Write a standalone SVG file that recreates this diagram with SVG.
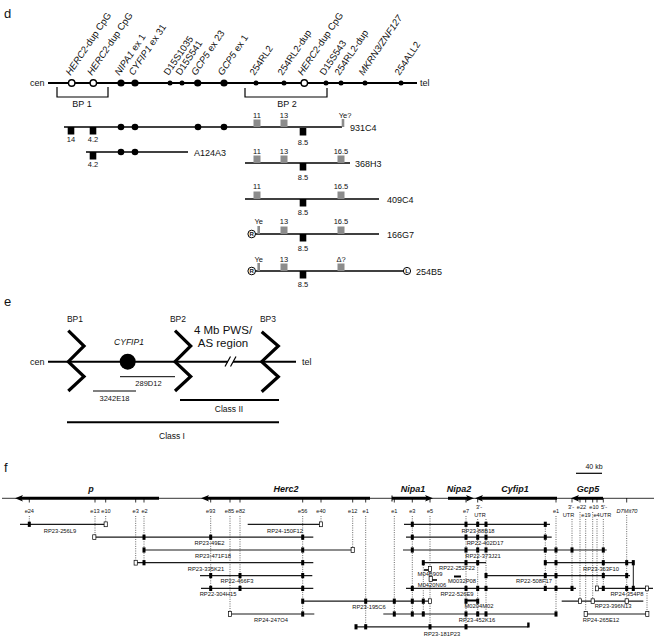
<svg xmlns="http://www.w3.org/2000/svg" xmlns:xlink="http://www.w3.org/1999/xlink" width="656" height="642" viewBox="0 0 656 642">
<style>
text{font-family:"Liberation Sans",Arial,sans-serif;fill:#111}
.rl{font-size:9.5px}
.it{font-style:italic}
.bi{font-style:italic;font-weight:bold;font-size:9px}
.ln{stroke:#000;fill:none}
.cl{stroke:#1a1a1a;stroke-width:1.2;fill:none}
.n7{font-size:7.5px}
.lab9{font-size:9px}
.f6{font-size:5.8px}
.ex{font-size:5.6px;text-anchor:middle}
.mid{text-anchor:middle}
.dot{stroke:#000;stroke-width:0.6;stroke-dasharray:1 1.3;fill:none}
.gy{fill:#8c8c8c}
.pl{font-size:13px}
</style>
<defs>
<rect id="bs" x="-1.5" y="-2.6" width="3" height="5.2" fill="#000"/>
<rect id="os" x="-1.6" y="-2.4" width="3.2" height="4.8" fill="#fff" stroke="#000" stroke-width="0.7"/>
<rect id="dsq" x="-3.3" y="0" width="6.6" height="7.5" fill="#000"/>
<rect id="gsq" x="-3.5" y="-7.5" width="7" height="7.5" fill="#8c8c8c"/>
<rect id="gye" x="-1.3" y="-8" width="2.6" height="8" fill="#8c8c8c"/>
</defs>

<!-- ================= PANEL D ================= -->
<g id="panel-d">
<text x="4" y="18" class="pl">d</text>
<g id="d-chromosome">
<text x="30" y="86" class="lab9">cen</text>
<line x1="48" y1="83" x2="417" y2="83" class="ln" stroke-width="2"/>
<text x="420" y="86" class="lab9">tel</text>
<circle cx="71.7" cy="83" r="3.2" fill="#fff" stroke="#000" stroke-width="1.4"/>
<circle cx="93.3" cy="83" r="3.2" fill="#fff" stroke="#000" stroke-width="1.4"/>
<circle cx="304.3" cy="83" r="3.2" fill="#fff" stroke="#000" stroke-width="1.4"/>
<circle cx="121" cy="83" r="3.6"/>
<circle cx="135" cy="83" r="3.6"/>
<circle cx="197.7" cy="83" r="3.6"/>
<circle cx="224" cy="83" r="3.6"/>
<circle cx="170" cy="83" r="2.5"/>
<circle cx="182" cy="83" r="2.5"/>
<circle cx="256" cy="83" r="2.5"/>
<circle cx="284" cy="83" r="2.5"/>
<circle cx="326" cy="83" r="2.5"/>
<circle cx="341" cy="83" r="2.5"/>
<circle cx="365" cy="83" r="2.5"/>
<circle cx="401" cy="83" r="2.5"/>
</g>
<g id="d-markers" class="rl">
<text transform="translate(70.5,76) rotate(-56)"><tspan class="it">HERC2</tspan>-dup CpG</text>
<text transform="translate(92,76) rotate(-56)"><tspan class="it">HERC2</tspan>-dup CpG</text>
<text transform="translate(119.5,76) rotate(-56)"><tspan class="it">NIPA1</tspan> ex 1</text>
<text transform="translate(133.5,76) rotate(-56)"><tspan class="it">CYFIP1</tspan> ex 31</text>
<text transform="translate(168.5,76) rotate(-56)">D15S1035</text>
<text transform="translate(180.5,76) rotate(-56)">D15S541</text>
<text transform="translate(196,76) rotate(-56)"><tspan class="it">GCP5</tspan> ex 23</text>
<text transform="translate(222.5,76) rotate(-56)"><tspan class="it">GCP5</tspan> ex 1</text>
<text transform="translate(254.5,76) rotate(-56)">254RL2</text>
<text transform="translate(282.5,76) rotate(-56)">254RL2-dup</text>
<text transform="translate(302.5,76) rotate(-56)"><tspan class="it">HERC2</tspan>-dup CpG</text>
<text transform="translate(324.5,76) rotate(-56)">D15S543</text>
<text transform="translate(339.5,76) rotate(-56)">254RL2-dup</text>
<text transform="translate(363.5,76) rotate(-56)" class="it">MKRN3/ZNF127</text>
<text transform="translate(399.5,76) rotate(-56)">254ALL2</text>
</g>
<g id="d-bp1">
<path d="M57,87V97H108V87" class="ln" stroke-width="1.2"/>
<text x="82" y="106.5" class="lab9 mid">BP 1</text>
</g>
<g id="d-bp2">
<path d="M245,88V97H327V88" class="ln" stroke-width="1.2"/>
<text x="287" y="106.5" class="lab9 mid">BP 2</text>
</g>

<g id="clone-931C4">
<line x1="64" y1="127" x2="342" y2="127" class="ln" stroke-width="1.3"/>
<use xlink:href="#dsq" x="71" y="127"/>
<use xlink:href="#dsq" x="93" y="127"/>
<text x="71" y="142" class="n7 mid">14</text>
<text x="93" y="142" class="n7 mid">4.2</text>
<circle cx="121" cy="127" r="3.3"/><circle cx="135" cy="127" r="3.3"/>
<circle cx="198" cy="127" r="3.3"/><circle cx="224" cy="127" r="3.3"/>
<use xlink:href="#gsq" x="257" y="127"/><use xlink:href="#gsq" x="284" y="127"/>
<text x="257" y="118" class="n7 mid">11</text>
<text x="284" y="118" class="n7 mid">13</text>
<use xlink:href="#dsq" x="303" y="128"/>
<text x="303" y="145" class="n7 mid">8.5</text>
<use xlink:href="#gye" x="343" y="127"/>
<text x="345" y="118" class="n7 mid">Ye?</text>
<text x="350" y="130.5" class="lab9">931C4</text>
</g>

<g id="clone-A124A3">
<line x1="86" y1="152" x2="188" y2="152" class="ln" stroke-width="1.3"/>
<use xlink:href="#dsq" x="93" y="152"/>
<text x="93" y="166.5" class="n7 mid">4.2</text>
<circle cx="121" cy="152" r="3.3"/><circle cx="135" cy="152" r="3.3"/>
<text x="194" y="155.5" class="lab9">A124A3</text>
</g>

<g id="clone-368H3">
<line x1="245" y1="163" x2="350" y2="163" class="ln" stroke-width="1.3"/>
<use xlink:href="#gsq" x="257" y="163"/><use xlink:href="#gsq" x="284" y="163"/>
<use xlink:href="#gsq" x="341" y="163"/>
<text x="257" y="153.5" class="n7 mid">11</text>
<text x="284" y="153.5" class="n7 mid">13</text>
<text x="341" y="153.5" class="n7 mid">16.5</text>
<use xlink:href="#dsq" x="303" y="163"/>
<text x="303" y="180" class="n7 mid">8.5</text>
<text x="355" y="166.5" class="lab9">368H3</text>
</g>

<g id="clone-409C4">
<line x1="245" y1="199" x2="379" y2="199" class="ln" stroke-width="1.3"/>
<use xlink:href="#gsq" x="257" y="199"/><use xlink:href="#gsq" x="341" y="199"/>
<text x="257" y="189" class="n7 mid">11</text>
<text x="341" y="189" class="n7 mid">16.5</text>
<use xlink:href="#dsq" x="303" y="199"/>
<text x="303" y="215" class="n7 mid">8.5</text>
<text x="387" y="202.5" class="lab9">409C4</text>
</g>

<g id="clone-166G7">
<circle cx="251.7" cy="234" r="3.8" fill="#fff" stroke="#000" stroke-width="1"/>
<text x="251.7" y="236.3" font-size="6" font-weight="bold" class="mid">R</text>
<line x1="255.5" y1="234" x2="379" y2="234" class="ln" stroke-width="1.3"/>
<use xlink:href="#gye" x="258.7" y="234"/>
<use xlink:href="#gsq" x="284" y="234"/><use xlink:href="#gsq" x="341" y="234"/>
<text x="258.7" y="224" class="n7 mid">Ye</text>
<text x="284" y="224" class="n7 mid">13</text>
<text x="341" y="224" class="n7 mid">16.5</text>
<use xlink:href="#dsq" x="303" y="234"/>
<text x="303" y="250.5" class="n7 mid">8.5</text>
<text x="387" y="237.5" class="lab9">166G7</text>
</g>

<g id="clone-254B5">
<circle cx="251.7" cy="271" r="3.8" fill="#fff" stroke="#000" stroke-width="1"/>
<text x="251.7" y="273.3" font-size="6" font-weight="bold" class="mid">R</text>
<line x1="255.5" y1="271" x2="403" y2="271" class="ln" stroke-width="1.3"/>
<use xlink:href="#gye" x="258.7" y="271"/>
<use xlink:href="#gsq" x="284" y="271"/><use xlink:href="#gsq" x="341" y="271"/>
<text x="258.7" y="261.5" class="n7 mid">Ye</text>
<text x="284" y="261.5" class="n7 mid">13</text>
<text x="341" y="261.5" class="n7 mid">Δ?</text>
<use xlink:href="#dsq" x="303" y="271"/>
<text x="303" y="287" class="n7 mid">8.5</text>
<circle cx="407" cy="271" r="3.6" fill="#fff" stroke="#000" stroke-width="1"/>
<text x="407" y="273.3" font-size="6" font-weight="bold" class="mid">L</text>
<text x="416" y="274.5" class="lab9">254B5</text>
</g>
</g>

<!-- ================= PANEL E ================= -->
<g id="panel-e">
<text x="4" y="306" class="pl">e</text>
<g id="e-axis">
<text x="30" y="364.5" class="lab9">cen</text>
<line x1="48" y1="361.7" x2="296" y2="361.7" class="ln" stroke-width="2"/>
<text x="302" y="364.5" class="lab9">tel</text>
<rect x="228" y="358" width="5" height="8" fill="#fff"/>
<line x1="225" y1="366.5" x2="230.5" y2="356.5" class="ln" stroke-width="1.2"/>
<line x1="230.5" y1="366.5" x2="236" y2="356.5" class="ln" stroke-width="1.2"/>
</g>
<g id="e-bp1">
<polyline points="68.3,330.7 84,346 68.3,361.7 84,376.5 68.3,391" class="ln" stroke-width="3.2"/>
<text x="75" y="322" font-size="8.5" class="mid">BP1</text>
</g>
<g id="e-bp2">
<polyline points="175,330.7 190.7,346 175,361.7 190.7,376.5 175,391" class="ln" stroke-width="3.2"/>
<text x="178" y="322" font-size="8.5" class="mid">BP2</text>
</g>
<g id="e-bp3">
<polyline points="261.7,331.7 278.3,346 261.7,361.7 278.3,376.7 261.7,391.7" class="ln" stroke-width="3.2"/>
<text x="268" y="322" font-size="8.5" class="mid">BP3</text>
</g>
<g id="e-cyfip1">
<circle cx="127.7" cy="361.7" r="8"/>
<text x="129" y="345" font-size="8.5" class="mid it">CYFIP1</text>
</g>
<g id="e-region">
<text x="223" y="334" font-size="11.5" class="mid">4 Mb PWS/</text>
<text x="223" y="346.5" font-size="11.5" class="mid">AS region</text>
</g>
<g id="e-289D12">
<line x1="120" y1="376.7" x2="175" y2="376.7" class="ln" stroke-width="1"/>
<text x="148.5" y="385.5" font-size="7.5" class="mid">289D12</text>
</g>
<g id="e-3242E18">
<line x1="93" y1="391" x2="136" y2="391" class="ln" stroke-width="1"/>
<text x="114.5" y="401" font-size="7.5" class="mid">3242E18</text>
</g>
<g id="e-classII">
<line x1="180" y1="400" x2="279" y2="400" class="ln" stroke-width="2"/>
<text x="229" y="412" font-size="8.5" class="mid">Class II</text>
</g>
<g id="e-classI">
<line x1="67" y1="422.3" x2="279" y2="422.3" class="ln" stroke-width="2"/>
<text x="172" y="439" font-size="8.5" class="mid">Class I</text>
</g>
</g>

<!-- ================= PANEL F ================= -->
<g id="panel-f">
<text x="4" y="472" class="pl">f</text>
<g id="f-scale">
<text x="594" y="469" font-size="7" class="mid">40 kb</text>
<line x1="576" y1="473.3" x2="602" y2="473.3" class="ln" stroke-width="1.2"/>
</g>
<g id="f-axis">
<line x1="2" y1="498.3" x2="654" y2="498.3" class="ln" stroke-width="0.8"/>
</g>
<g id="gene-p">
<line x1="21" y1="498.3" x2="159" y2="498.3" class="ln" stroke-width="3"/>
<polygon points="15,498.3 23,495 21,498.3 23,501.6"/>
<text x="91" y="492" class="bi mid">p</text>
</g>
<g id="gene-Herc2">
<line x1="207" y1="498.3" x2="370" y2="498.3" class="ln" stroke-width="3"/>
<polygon points="201,498.3 209,495 207,498.3 209,501.6"/>
<text x="286" y="492" class="bi mid">Herc2</text>
</g>
<g id="gene-Nipa1">
<line x1="392" y1="498.3" x2="428" y2="498.3" class="ln" stroke-width="3"/>
<line x1="392" y1="495.5" x2="392" y2="501.5" class="ln" stroke-width="1"/>
<polygon points="433,498.3 425,495 427,498.3 425,501.6"/>
<text x="413" y="492" class="bi mid">Nipa1</text>
</g>
<g id="gene-Nipa2">
<line x1="448" y1="498.3" x2="469" y2="498.3" class="ln" stroke-width="3"/>
<polygon points="474,498.3 466,495 468,498.3 466,501.6"/>
<text x="459" y="492" class="bi mid">Nipa2</text>
</g>
<g id="gene-Cyfip1">
<line x1="480" y1="498.3" x2="557" y2="498.3" class="ln" stroke-width="3"/>
<polygon points="475,498.3 483,495 481,498.3 483,501.6"/>
<text x="515" y="492" class="bi mid">Cyfip1</text>
</g>
<g id="gene-Gcp5">
<line x1="576" y1="498.3" x2="603" y2="498.3" class="ln" stroke-width="3"/>
<polygon points="571,498.3 579,495 577,498.3 579,501.6"/>
<text x="588" y="492" class="bi mid">Gcp5</text>
</g>

<g id="f-ticks" stroke="#000" stroke-width="0.8">
<path d="M29.3,498v4.5M95,498v4.5M105.7,498v4.5M135.7,498v4.5M144,498v4.5M210.7,498v4.5M230,498v4.5M240,498v4.5M302.7,498v4.5M321,498v4.5M352.7,498v4.5M365.7,498v4.5M394.3,498v4.5M412.3,498v4.5M430,498v4.5M466,498v4.5M477.7,498v4.5M556,498v4.5M572,498v4.5M580,498v4.5M585.7,498v4.5M592.7,498v4.5M597,498v4.5M603.3,498v4.5M626.7,498v4.5"/>
</g>
<g id="f-exon-labels">
<text x="29.3" y="513" class="ex">e24</text>
<text x="95" y="513" class="ex">e13</text>
<text x="106" y="513" class="ex">e10</text>
<text x="135.7" y="513" class="ex">e3</text>
<text x="144.5" y="513" class="ex">e2</text>
<text x="210.7" y="513" class="ex">e93</text>
<text x="229.5" y="513" class="ex">e85</text>
<text x="240.5" y="513" class="ex">e82</text>
<text x="302.7" y="513" class="ex">e56</text>
<text x="321" y="513" class="ex">e40</text>
<text x="352.7" y="513" class="ex">e12</text>
<text x="365.7" y="513" class="ex">e1</text>
<text x="394.3" y="513" class="ex">e1</text>
<text x="412.3" y="513" class="ex">e3</text>
<text x="430" y="513" class="ex">e5</text>
<text x="466" y="513" class="ex">e7</text>
<text x="479" y="509" class="ex">3'-</text>
<text x="480" y="516.5" class="ex">UTR</text>
<text x="556" y="513" class="ex">e1</text>
<text x="571" y="509" class="ex">3'-</text>
<text x="568.5" y="516.5" class="ex">UTR</text>
<text x="581.5" y="509" class="ex">e22</text>
<text x="586" y="516.5" class="ex">e19</text>
<text x="594" y="509" class="ex">e10</text>
<text x="596.5" y="516.5" class="ex">e4</text>
<text x="604" y="509" class="ex">5'-</text>
<text x="605.5" y="516.5" class="ex">UTR</text>
<text x="627" y="512.5" class="ex it">D7Mit70</text>
</g>

<g id="connectors">
<path class="dot" d="M29.3,516V524M95,516V537M105.7,516V524M135.7,516V562.7M144,516V562.7M210.7,516V588.4M230,516V614M240,516V588.4M302.7,516V614M321,516V524M352.7,516V550M365.7,516V626.8M394.3,516V614M412.3,516V614M430,516V626.8M423.3,562.7V614M466,516V626.8M477.7,519V614M486,519V614M545.3,524V588.4M556,516V614M572,519V588.4M580,512V601.2M585.7,519V614M592.7,512V601.2M597,519V588.4M603.3,519V588.4M626.7,515V601.2M647,588.4V614"/>
<line x1="633.3" y1="562.7" x2="633.3" y2="588.4" class="ln" stroke-width="0.9"/>
</g>

<g id="clones" class="f6">
<!-- row 1 -->
<g id="RP23-256L9">
<line x1="20" y1="524.3" x2="105.7" y2="524.3" class="cl"/>
<use xlink:href="#bs" x="29.3" y="524.3"/><use xlink:href="#os" x="105.7" y="524.3"/>
<text x="60" y="533" class="mid">RP23-256L9</text>
</g>
<g id="RP24-150F12">
<line x1="247.7" y1="524.3" x2="321" y2="524.3" class="cl"/>
<use xlink:href="#os" x="321" y="524.3"/>
<text x="285" y="533" class="mid">RP24-150F12</text>
</g>
<g id="RP23-88B18">
<line x1="404" y1="524.3" x2="550" y2="524.3" class="cl"/>
<use xlink:href="#bs" x="412.3" y="524.3"/><use xlink:href="#bs" x="466" y="524.3"/><use xlink:href="#bs" x="477.7" y="524.3"/><use xlink:href="#bs" x="486" y="524.3"/><use xlink:href="#bs" x="545.3" y="524.3"/>
<text x="478" y="532.5" class="mid">RP23-88B18</text>
</g>
<!-- row 2 -->
<g id="RP23-49E2">
<line x1="94.3" y1="537.2" x2="313.3" y2="537.2" class="cl"/>
<use xlink:href="#os" x="94.3" y="537.2"/><use xlink:href="#bs" x="144" y="537.2"/><use xlink:href="#bs" x="210.7" y="537.2"/><use xlink:href="#bs" x="302.7" y="537.2"/>
<text x="209.5" y="545" class="mid">RP23-49E2</text>
</g>
<g id="RP22-402D17">
<line x1="406" y1="537.2" x2="551.7" y2="537.2" class="cl"/>
<use xlink:href="#bs" x="412.3" y="537.2"/><use xlink:href="#bs" x="466" y="537.2"/><use xlink:href="#bs" x="477.7" y="537.2"/><use xlink:href="#bs" x="486" y="537.2"/><use xlink:href="#bs" x="545.3" y="537.2"/>
<text x="485" y="544.5" class="mid">RP22-402D17</text>
</g>
<!-- row 3 -->
<g id="RP23-471F18">
<line x1="144" y1="550" x2="352.7" y2="550" class="cl"/>
<use xlink:href="#bs" x="144" y="550"/><use xlink:href="#bs" x="302.7" y="550"/><use xlink:href="#os" x="352.7" y="550"/>
<text x="213" y="557.5" class="mid">RP23-471F18</text>
</g>
<g id="RP22-373J21">
<line x1="403" y1="550" x2="606.7" y2="550" class="cl"/>
<use xlink:href="#bs" x="412.3" y="550"/><use xlink:href="#bs" x="466" y="550"/><use xlink:href="#bs" x="477.7" y="550"/><use xlink:href="#bs" x="486" y="550"/><use xlink:href="#bs" x="545.3" y="550"/><use xlink:href="#bs" x="556" y="550"/><use xlink:href="#bs" x="572" y="550"/><use xlink:href="#bs" x="603.3" y="550"/>
<text x="483" y="557.5" class="mid">RP22-373J21</text>
</g>
<!-- row 4 -->
<g id="RP23-335K21">
<line x1="135.7" y1="562.7" x2="313.3" y2="562.7" class="cl"/>
<use xlink:href="#os" x="135.7" y="562.7"/><use xlink:href="#bs" x="144" y="562.7"/><use xlink:href="#bs" x="302.7" y="562.7"/>
<text x="206" y="570.5" class="mid">RP23-335K21</text>
</g>
<g id="RP22-252F22">
<line x1="423.3" y1="562.7" x2="486" y2="562.7" class="cl"/>
<use xlink:href="#bs" x="423.3" y="562.7"/><use xlink:href="#bs" x="466" y="562.7"/><use xlink:href="#bs" x="477.7" y="562.7"/>
<text x="457" y="569.5" class="mid">RP22-252F22</text>
</g>
<g id="RP23-363F10">
<line x1="545.3" y1="562.7" x2="633.3" y2="562.7" class="cl"/>
<use xlink:href="#bs" x="545.3" y="562.7"/><use xlink:href="#bs" x="556" y="562.7"/><use xlink:href="#bs" x="603.3" y="562.7"/><use xlink:href="#bs" x="626.7" y="562.7"/><use xlink:href="#bs" x="633.3" y="562.7"/>
<text x="601" y="570.5" class="mid">RP23-363F10</text>
</g>
<!-- row 5 -->
<g id="RP22-466F3">
<line x1="200" y1="575.6" x2="312.3" y2="575.6" class="cl"/>
<use xlink:href="#bs" x="210.7" y="575.6"/><use xlink:href="#bs" x="240" y="575.6"/><use xlink:href="#bs" x="302.7" y="575.6"/>
<text x="237" y="582.5" class="mid">RP22-466F3</text>
</g>
<g id="M04B909">
<line x1="424" y1="570" x2="429" y2="570" class="ln" stroke-width="1.6"/>
<use xlink:href="#os" x="430" y="569"/>
<text x="430" y="576" class="mid">M04B909</text>
</g>
<g id="M0420N06">
<use xlink:href="#os" x="430.7" y="579"/>
<line x1="432.3" y1="580" x2="437" y2="580" class="ln" stroke-width="1.6"/>
<text x="432" y="586.5" class="mid">M0420N06</text>
</g>
<g id="M0032P08">
<line x1="454" y1="576.5" x2="461" y2="576.5" class="ln" stroke-width="2"/>
<text x="462" y="582.5" class="mid">M0032P08</text>
</g>
<g id="RP22-508F17">
<line x1="486" y1="575.6" x2="630" y2="575.6" class="cl"/>
<use xlink:href="#bs" x="486" y="575.6"/><use xlink:href="#bs" x="545.3" y="575.6"/><use xlink:href="#bs" x="556" y="575.6"/><use xlink:href="#bs" x="603.3" y="575.6"/><use xlink:href="#bs" x="626.7" y="575.6"/>
<text x="534" y="583" class="mid">RP22-508F17</text>
</g>
<!-- row 6 -->
<g id="RP22-304H15">
<line x1="201" y1="588.4" x2="313.3" y2="588.4" class="cl"/>
<use xlink:href="#bs" x="210.7" y="588.4"/><use xlink:href="#bs" x="240" y="588.4"/><use xlink:href="#bs" x="302.7" y="588.4"/>
<text x="218" y="595.5" class="mid">RP22-304H15</text>
</g>
<g id="RP22-526E9">
<line x1="406" y1="588.4" x2="576" y2="588.4" class="cl"/>
<use xlink:href="#bs" x="412.3" y="588.4"/><use xlink:href="#bs" x="466" y="588.4"/><use xlink:href="#bs" x="477.7" y="588.4"/><use xlink:href="#bs" x="486" y="588.4"/><use xlink:href="#bs" x="545.3" y="588.4"/><use xlink:href="#bs" x="556" y="588.4"/><use xlink:href="#bs" x="572" y="588.4"/>
<text x="457" y="595.5" class="mid">RP22-526E9</text>
</g>
<g id="RP24-354P8">
<line x1="597" y1="588.4" x2="653" y2="588.4" class="cl"/>
<use xlink:href="#os" x="597" y="588.4"/><use xlink:href="#bs" x="603.3" y="588.4"/><use xlink:href="#bs" x="626.7" y="588.4"/><use xlink:href="#bs" x="633.3" y="588.4"/><use xlink:href="#os" x="647" y="588.4"/>
<text x="627" y="595.5" class="mid">RP24-354P8</text>
</g>
<!-- row 7 -->
<g id="RP23-195C6">
<line x1="302.7" y1="601.2" x2="430" y2="601.2" class="cl"/>
<use xlink:href="#bs" x="302.7" y="601.2"/><use xlink:href="#bs" x="365.7" y="601.2"/><use xlink:href="#bs" x="394.3" y="601.2"/><use xlink:href="#bs" x="412.3" y="601.2"/><use xlink:href="#bs" x="423.3" y="601.2"/><use xlink:href="#os" x="430" y="601.2"/>
<text x="369" y="608.5" class="mid">RP23-195C6</text>
</g>
<g id="M0204M02">
<line x1="466.7" y1="600.5" x2="477.3" y2="600.5" class="ln" stroke-width="2"/>
<use xlink:href="#bs" x="466" y="601.2"/><use xlink:href="#bs" x="477.7" y="601.2"/>
<text x="479" y="608" class="mid">M0204M02</text>
</g>
<g id="RP23-396N13">
<line x1="561.7" y1="601.2" x2="643.3" y2="601.2" class="cl"/>
<use xlink:href="#os" x="580" y="601.2"/><use xlink:href="#os" x="592.7" y="601.2"/><use xlink:href="#os" x="626.7" y="601.2"/>
<text x="613" y="608" class="mid">RP23-396N13</text>
</g>
<!-- row 8 -->
<g id="RP24-247O4">
<line x1="230" y1="614" x2="314.3" y2="614" class="cl"/>
<use xlink:href="#os" x="230" y="614"/><use xlink:href="#bs" x="302.7" y="614"/>
<text x="271" y="622" class="mid">RP24-247O4</text>
</g>
<g id="RP23-452K16">
<line x1="383.3" y1="614" x2="556.7" y2="614" class="cl"/>
<use xlink:href="#bs" x="394.3" y="614"/><use xlink:href="#bs" x="412.3" y="614"/><use xlink:href="#bs" x="423.3" y="614"/><use xlink:href="#bs" x="466" y="614"/><use xlink:href="#bs" x="477.7" y="614"/><use xlink:href="#bs" x="486" y="614"/><use xlink:href="#bs" x="556" y="614"/>
<text x="477" y="622" class="mid">RP23-452K16</text>
</g>
<g id="RP24-265E12">
<line x1="585.7" y1="614" x2="647.3" y2="614" class="cl"/>
<use xlink:href="#os" x="585.7" y="614"/><use xlink:href="#os" x="647.3" y="614"/>
<text x="601" y="622" class="mid">RP24-265E12</text>
</g>
<!-- row 9 -->
<g id="RP23-181P23">
<line x1="355" y1="626.8" x2="528.3" y2="626.8" class="cl"/>
<use xlink:href="#bs" x="356" y="626.8"/><use xlink:href="#bs" x="365.7" y="626.8"/><use xlink:href="#bs" x="430" y="626.8"/><use xlink:href="#bs" x="466" y="626.8"/>
<rect x="527.2" y="622.5" width="2.4" height="5" fill="#000"/>
<text x="442" y="636" class="mid">RP23-181P23</text>
</g>
</g>
</g>
</svg>
